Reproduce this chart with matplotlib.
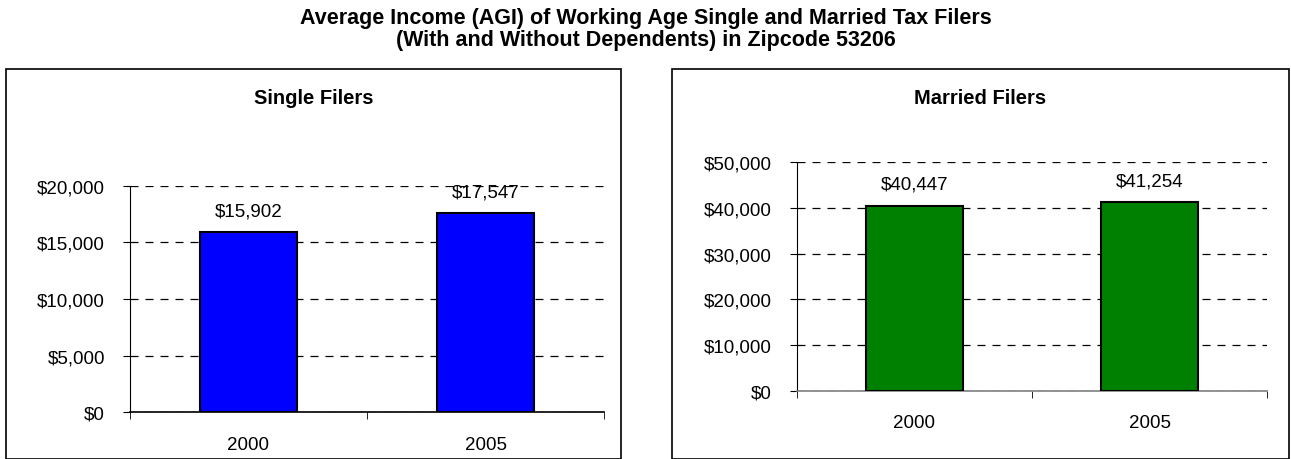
import matplotlib
matplotlib.use("Agg")
import matplotlib.pyplot as plt
from matplotlib.patches import Rectangle
from matplotlib.ticker import FuncFormatter, FixedLocator

plt.rcParams['font.family'] = ['Liberation Sans', 'DejaVu Sans']

years = ["2000", "2005"]
single_values = [15902, 17547]
married_values = [40447, 41254]

W, H = 1291, 460
fig = plt.figure(figsize=(W / 100, H / 100), dpi=100)

fig.text(0.5, 1 - 8 / H, "Average Income (AGI) of Working Age Single and Married Tax Filers\n(With and Without Dependents) in Zipcode 53206",
         ha='center', va='top', fontsize=15.5, fontweight='bold', linespacing=1.08)

def box(x0, y0, x1, y1):
    fig.patches.append(Rectangle((x0 / W, 1 - y1 / H), (x1 - x0) / W, (y1 - y0) / H,
                                 transform=fig.transFigure, fill=False, edgecolor='black', linewidth=1.2))

box(6, 70, 621, 460.5)
box(672, 70, 1289, 460.5)

def panel(px0, px1, py_top, py_bot, values, color, ymax, step, title, bx0, bx1, bottom_color):
    ax = fig.add_axes([px0 / W, 1 - py_bot / H, (px1 - px0) / W, (py_bot - py_top) / H])
    x = list(range(len(values)))
    bars = ax.bar(x, values, width=0.41, color=color, edgecolor='black', linewidth=1.5, zorder=3)
    ax.set_xlim(-0.5, len(values) - 0.5)
    ax.set_ylim(0, ymax)
    ax.set_yticks(range(0, ymax + 1, step))
    ax.yaxis.set_major_formatter(FuncFormatter(lambda v, p: f"${v:,.0f}"))
    ax.set_xticks(x)
    ax.set_xticklabels(years)
    ax.xaxis.set_minor_locator(FixedLocator([i - 0.5 for i in range(len(values) + 1)]))
    ax.tick_params(axis='x', which='major', length=0, pad=17, labelsize=13.5)
    ax.tick_params(axis='x', which='minor', length=5, direction='out', color='black')
    ax.tick_params(axis='y', length=5, direction='out', labelsize=13.5, pad=13)
    ax.grid(axis='y', linestyle=(0, (6.4, 5.6)), color='black', linewidth=0.9, zorder=0)
    for s in ['top', 'right']:
        ax.spines[s].set_visible(False)
    ax.spines['left'].set_color('black')
    ax.spines['bottom'].set_color(bottom_color)
    ax.spines['bottom'].set_linewidth(1.2)
    for b, v in zip(bars, values):
        ax.annotate(f"${v:,.0f}", (b.get_x() + b.get_width() / 2, v), xytext=(0, 12.2),
                    textcoords='offset points', ha='center', va='baseline', fontsize=13.5, zorder=4)
    ax.set_facecolor('none')
    fig.text((bx0 + bx1) / 2 / W, 1 - 104 / H, title, ha='center', va='baseline',
             fontsize=14.5, fontweight='bold')
    return ax

panel(130, 604, 186.7, 413.3, single_values, '#0000FF', 20000, 5000, "Single Filers", 6, 621, 'black')
panel(797, 1267, 163.3, 391.7, married_values, '#008000', 50000, 10000, "Married Filers", 672, 1289, '#808080')

fig.savefig("out.png", dpi=100)
